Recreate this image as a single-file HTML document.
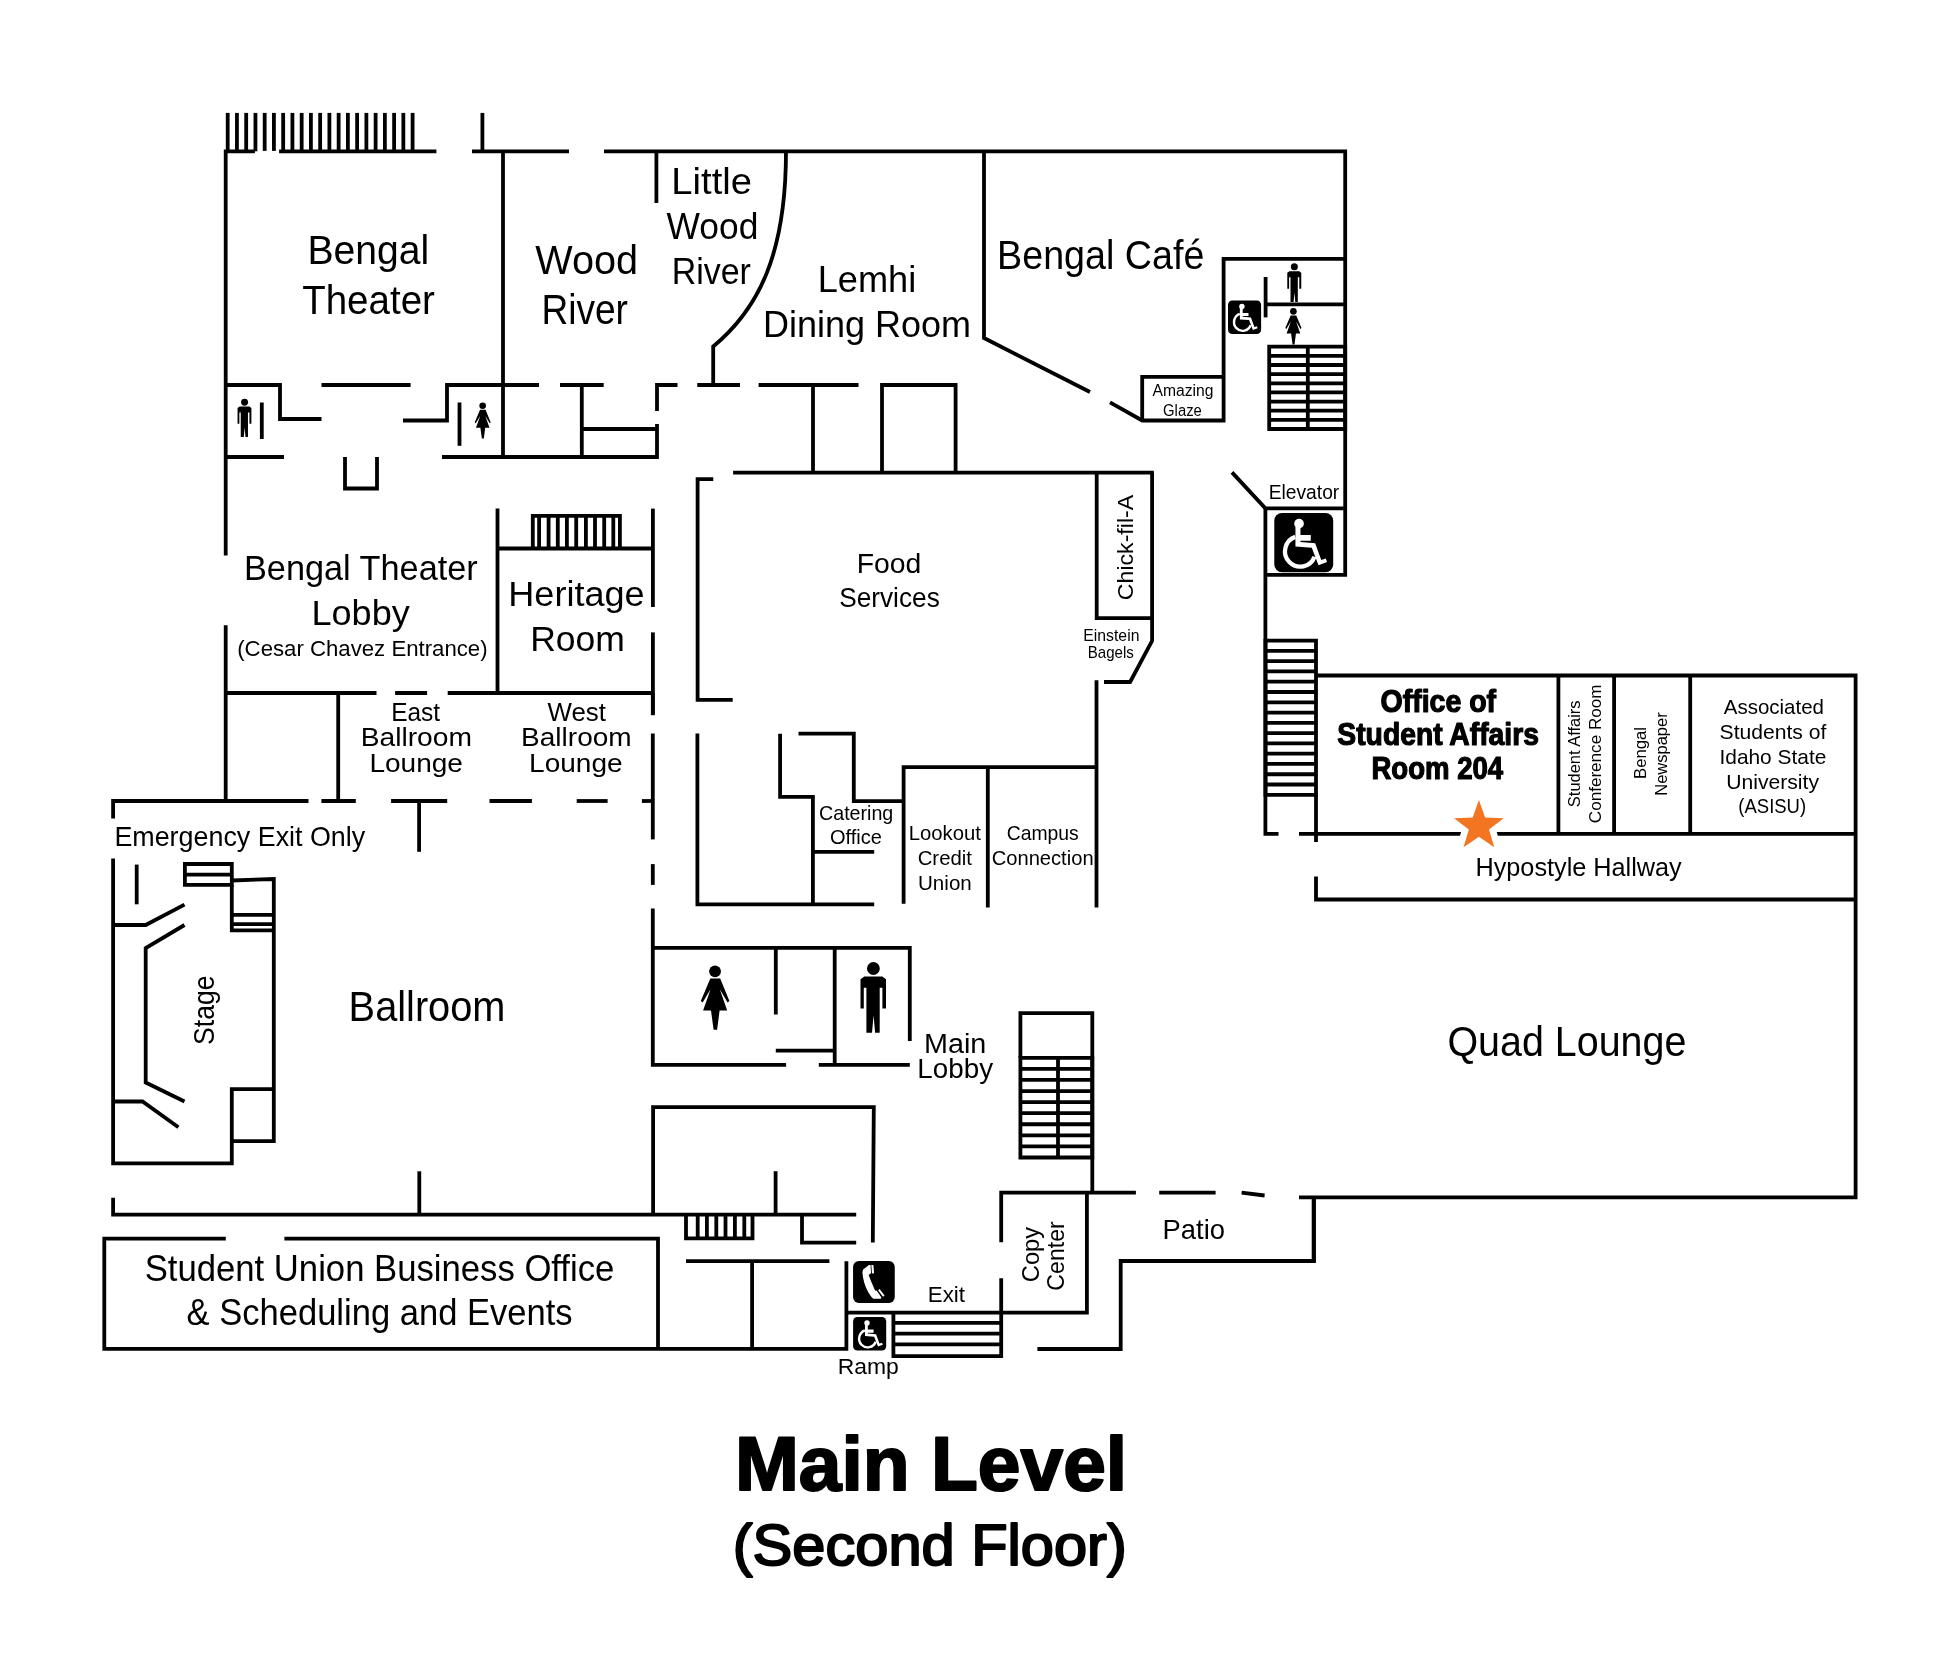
<!DOCTYPE html><html><head><meta charset="utf-8"><title>Main Level (Second Floor)</title>
<style>html,body{margin:0;padding:0;background:#fff;}svg{display:block;will-change:transform;}text{font-family:"Liberation Sans",sans-serif;fill:#000;}</style></head><body>
<svg width="1942" height="1662" viewBox="0 0 1942 1662">
<rect width="1942" height="1662" fill="#fff"/>
<g fill="none" stroke="#000" stroke-width="3.8" stroke-linejoin="miter" stroke-miterlimit="10">
<path d="M227.7 112.9 L227.7 151.3"/>
<path d="M236.94 112.9 L236.94 151.3"/>
<path d="M246.19 112.9 L246.19 151.3"/>
<path d="M255.44 112.9 L255.44 151.3"/>
<path d="M264.68 112.9 L264.68 150.9"/>
<path d="M273.92 112.9 L273.92 150.9"/>
<path d="M283.17 112.9 L283.17 151.3"/>
<path d="M292.41 112.9 L292.41 151.3"/>
<path d="M301.66 112.9 L301.66 151.3"/>
<path d="M310.9 112.9 L310.9 151.3"/>
<path d="M320.15 112.9 L320.15 151.3"/>
<path d="M329.39 112.9 L329.39 151.3"/>
<path d="M338.64 112.9 L338.64 151.3"/>
<path d="M347.88 112.9 L347.88 151.3"/>
<path d="M357.13 112.9 L357.13 151.3"/>
<path d="M366.38 112.9 L366.38 151.3"/>
<path d="M375.62 112.9 L375.62 151.3"/>
<path d="M384.87 112.9 L384.87 151.3"/>
<path d="M394.11 112.9 L394.11 151.3"/>
<path d="M403.35 112.9 L403.35 151.3"/>
<path d="M412.6 112.9 L412.6 151.3"/>
<path d="M225.7 555.5 L225.7 151.3 L254.9 151.3"/>
<path d="M279.1 151.3 L436.4 151.3"/>
<path d="M472 151.3 L569 151.3"/>
<path d="M482.4 112.9 L482.4 151.3"/>
<path d="M604 151.3 L1345.2 151.3 L1345.2 574.9 L1265.4 574.9"/>
<path d="M225.7 625.2 L225.7 801"/>
<path d="M225.7 385 L280 385 L280 419 L321.5 419"/>
<path d="M321.5 385 L410.6 385"/>
<path d="M403 420.5 L447 420.5 L447 385 L539 385"/>
<path d="M261.8 402.5 L261.8 439"/>
<path d="M459.5 402.5 L459.5 445.8"/>
<path d="M225.7 457 L284 457"/>
<path d="M345 457 L345 488.5 L377 488.5 L377 457"/>
<path d="M503 151.3 L503 457"/>
<path d="M560 385 L603.7 385"/>
<path d="M581.8 385 L581.8 457"/>
<path d="M581.8 429 L657 429"/>
<path d="M442 457 L657 457 L657 423.9"/>
<path d="M657 410.9 L657 385 L677.5 385"/>
<path d="M656.4 151.3 L656.4 203"/>
<path d="M786 151.3 C786 253 759.4 308.1 713.2 346.5 L713.2 385"/>
<path d="M697.3 385 L740 385"/>
<path d="M758.6 385 L858.5 385"/>
<path d="M813 385 L813 472.6"/>
<path d="M882 472.6 L882 385 L955.6 385 L955.6 472.6"/>
<path d="M733.1 472.6 L1153.8 472.6"/>
<path d="M984 151.3 L984 338 L1090 392"/>
<path d="M1110 402.4 L1142.2 420.5 L1223.6 420.5 L1223.6 258.9 L1345.2 258.9"/>
<path d="M1142.2 420.5 L1142.2 376.9 L1223.6 376.9"/>
<path d="M1265.6 304.3 L1345.2 304.3"/>
<path d="M1265.6 277 L1265.6 317.4"/>
<path d="M1269.2 355.84 L1345.2 355.84"/>
<path d="M1269.2 364.99 L1345.2 364.99"/>
<path d="M1269.2 374.13 L1345.2 374.13"/>
<path d="M1269.2 383.28 L1345.2 383.28"/>
<path d="M1269.2 392.42 L1345.2 392.42"/>
<path d="M1269.2 401.57 L1345.2 401.57"/>
<path d="M1269.2 410.71 L1345.2 410.71"/>
<path d="M1269.2 419.86 L1345.2 419.86"/>
<path d="M1269.2 346.7 H1345.2 V429 H1269.2 Z"/>
<path d="M1307.8 346.7 L1307.8 429"/>
<path d="M1232 472.4 L1265.4 508.4 L1345.2 508.4"/>
<path d="M1265.4 508.4 L1265.4 833.9 L1278.5 833.9"/>
<path d="M1152.1 472.6 L1152.1 640.8 L1130.1 682 L1104 682"/>
<path d="M1096.7 472.6 L1096.7 618.2 L1152.1 618.2"/>
<path d="M713.3 479.1 L697.6 479.1 L697.6 699.8 L732.7 699.8"/>
<path d="M697.4 733.6 L697.4 904.3 L874.2 904.3"/>
<path d="M780.1 733.7 L780.1 796.8 L812.9 796.8 L812.9 904.3"/>
<path d="M812.9 851.9 L874.2 851.9"/>
<path d="M798.5 733.7 L853.8 733.7 L853.8 801.2 L903.6 801.2"/>
<path d="M1096.5 767.1 L903.6 767.1 L903.6 903.7"/>
<path d="M987.8 767.1 L987.8 907.5"/>
<path d="M1096.5 680.3 L1096.5 907.5"/>
<path d="M1265.5 650.88 L1316 650.88"/>
<path d="M1265.5 661.16 L1316 661.16"/>
<path d="M1265.5 671.44 L1316 671.44"/>
<path d="M1265.5 681.72 L1316 681.72"/>
<path d="M1265.5 692 L1316 692"/>
<path d="M1265.5 702.28 L1316 702.28"/>
<path d="M1265.5 712.56 L1316 712.56"/>
<path d="M1265.5 722.84 L1316 722.84"/>
<path d="M1265.5 733.12 L1316 733.12"/>
<path d="M1265.5 743.4 L1316 743.4"/>
<path d="M1265.5 753.68 L1316 753.68"/>
<path d="M1265.5 763.96 L1316 763.96"/>
<path d="M1265.5 774.24 L1316 774.24"/>
<path d="M1265.5 784.52 L1316 784.52"/>
<path d="M1265.5 640.6 H1316 V794.8 H1265.5 Z"/>
<path d="M1316 794.8 L1316 842"/>
<path d="M1299 833.9 L1855.6 833.9"/>
<path d="M1316 675.5 L1855.6 675.5 L1855.6 1197.3 L1299 1197.3"/>
<path d="M1558.4 675.5 L1558.4 833.9"/>
<path d="M1614.1 675.5 L1614.1 833.9"/>
<path d="M1690.2 675.5 L1690.2 833.9"/>
<path d="M1316 876.6 L1316 899.5 L1855.6 899.5"/>
<path d="M1313.6 1197.3 L1313.6 1261"/>
<path d="M1001.2 1242.3 L1001.2 1192.6 L1135.9 1192.6"/>
<path d="M1159.2 1192.6 L1215.6 1192.6"/>
<path d="M1241.6 1192.6 L1264.6 1195.5"/>
<path d="M1314 1197.3 L1314 1261 L1120.7 1261 L1120.7 1349 L1037.4 1349"/>
<path d="M1020.4 1068.88 L1092.3 1068.88"/>
<path d="M1020.4 1079.96 L1092.3 1079.96"/>
<path d="M1020.4 1091.03 L1092.3 1091.03"/>
<path d="M1020.4 1102.11 L1092.3 1102.11"/>
<path d="M1020.4 1113.19 L1092.3 1113.19"/>
<path d="M1020.4 1124.27 L1092.3 1124.27"/>
<path d="M1020.4 1135.34 L1092.3 1135.34"/>
<path d="M1020.4 1146.42 L1092.3 1146.42"/>
<path d="M1020.4 1057.8 H1092.3 V1157.5 H1020.4 Z"/>
<path d="M1058 1057.8 L1058 1157.5"/>
<path d="M1020.4 1057.8 L1020.4 1013.2 L1092.3 1013.2 L1092.3 1192.6"/>
<path d="M652.8 908.4 L652.8 1064.9 L786.1 1064.9"/>
<path d="M652.8 947.9 L909.8 947.9 L909.8 1040.9"/>
<path d="M775.8 947.9 L775.8 1014.5"/>
<path d="M834.7 947.9 L834.7 1064.9"/>
<path d="M775.8 1050.7 L834.7 1050.7"/>
<path d="M818.8 1064.9 L909.8 1064.9"/>
<path d="M653.1 1214.7 L653.1 1107.2 L873.8 1107.2 L872.8 1242.6"/>
<path d="M775.6 1171.2 L775.6 1214.7"/>
<path d="M113.1 1197.7 L113.1 1214.7 L856.2 1214.7"/>
<path d="M697.7 1214.7 L697.7 1238.4"/>
<path d="M706.9 1214.7 L706.9 1238.4"/>
<path d="M716.3 1214.7 L716.3 1238.4"/>
<path d="M725.5 1214.7 L725.5 1238.4"/>
<path d="M734.9 1214.7 L734.9 1238.4"/>
<path d="M744.3 1214.7 L744.3 1238.4"/>
<path d="M686 1214.7 L686 1238.4 L752.5 1238.4 L752.5 1214.7"/>
<path d="M856.2 1242.6 L802 1242.6 L802 1214.7"/>
<path d="M284.4 1238.6 L658 1238.6 L658 1348.8"/>
<path d="M686 1261.2 L829.4 1261.2"/>
<path d="M752.1 1261.2 L752.1 1348.8"/>
<path d="M846.4 1312.7 L1086.9 1312.7 L1086.9 1192.6"/>
<path d="M893.4 1322.8 L1001.2 1322.8"/>
<path d="M893.4 1333.6 L1001.2 1333.6"/>
<path d="M893.4 1344.4 L1001.2 1344.4"/>
<path d="M893.4 1312.7 L893.4 1356.1 L1001.2 1356.1 L1001.2 1278.3"/>
<path d="M225.8 1238.6 L104.3 1238.6 L104.3 1348.8 L846.4 1348.8 L846.4 1261.2"/>
<path d="M113.1 818.5 L113.1 801 L308.5 801"/>
<path d="M321.4 801 L355.8 801"/>
<path d="M391.1 801 L447.2 801"/>
<path d="M489.5 801 L531.9 801"/>
<path d="M576.7 801 L607.6 801"/>
<path d="M641.9 801 L652.8 801"/>
<path d="M338.2 693 L338.2 801"/>
<path d="M419.1 801 L419.1 851.8"/>
<path d="M419.3 1171.3 L419.3 1214.7"/>
<path d="M113.1 858.4 L113.1 1163.4 L231.8 1163.4 L231.8 1089.2 L273.8 1089.2"/>
<path d="M652.8 693 L652.8 715.2"/>
<path d="M652.8 733.5 L652.8 839.4"/>
<path d="M652.8 864.1 L652.8 884.9"/>
<path d="M136.7 864.6 L136.7 904.3"/>
<path d="M113.1 925 L145.7 925 L184.5 904.6"/>
<path d="M184.5 925 L145.7 948 L145.7 1082.5 L184.5 1101.5"/>
<path d="M113.1 1101.5 L142.5 1101.5 L178.4 1127.2"/>
<path d="M184.9 864 H231.8 V884.9 H184.9 Z"/>
<path d="M184.9 874.7 L231.8 874.7"/>
<path d="M231.8 884.9 L231.8 930.4 L273.8 930.4"/>
<path d="M231.8 880.5 L273.8 879 L273.8 1141.2 L231.8 1141.2"/>
<path d="M231.8 914.8 L273.8 914.8"/>
<path d="M231.8 924.1 L273.8 924.1"/>
<path d="M225.7 693 L376.5 693"/>
<path d="M395.1 693 L427.1 693"/>
<path d="M447.7 693 L652.9 693"/>
<path d="M497.5 508.6 L497.5 693"/>
<path d="M497.5 548.5 L652.9 548.5"/>
<path d="M652.9 508.6 L652.9 607"/>
<path d="M652.9 632.4 L652.9 714.8"/>
<path d="M532.8 548.5 L532.8 515.8 L619.9 515.8 L619.9 548.5"/>
<path d="M539.1 515.8 L539.1 548.5"/>
<path d="M548.6 515.8 L548.6 548.5"/>
<path d="M557.8 515.8 L557.8 548.5"/>
<path d="M566.9 515.8 L566.9 548.5"/>
<path d="M576.2 515.8 L576.2 548.5"/>
<path d="M585.9 515.8 L585.9 548.5"/>
<path d="M595 515.8 L595 548.5"/>
<path d="M604.2 515.8 L604.2 548.5"/>
<path d="M613.3 515.8 L613.3 548.5"/>
</g>
<g fill="#000">
<circle cx="873.4" cy="968.5" r="6.4"/><path d="M864.3 976.4 L882.3 976.4 L886 979.3 L886 1008.4 L882.4 1008.4 L882.4 987.7 L879.7 987.7 L879.7 1032.7 L875.1 1032.7 L873.6 1015.3 L872 1032.7 L866.4 1032.7 L866.4 987.7 L863.8 987.7 L863.8 1008.4 L860.5 1008.4 L860.5 979.3 Z"/>
<circle cx="715.05" cy="971.3" r="5.9"/><path d="M710.3 978.5 L720.2 978.5 L729.4 1000.9 L727.6 1002.5 L719.8 989.3 L727.2 1010.5 L719.6 1010.5 L717.1 1029.8 L713.6 1029.8 L711 1010.5 L703.1 1010.5 L710.6 989.3 L702.6 1002.5 L700.8 1000.9 Z"/>
<g transform="translate(244.5 398.7) scale(0.5425) translate(-873.3 -962.1)"><circle cx="873.4" cy="968.5" r="6.4"/><path d="M864.3 976.4 L882.3 976.4 L886 979.3 L886 1008.4 L882.4 1008.4 L882.4 987.7 L879.7 987.7 L879.7 1032.7 L875.1 1032.7 L873.6 1015.3 L872 1032.7 L866.4 1032.7 L866.4 987.7 L863.8 987.7 L863.8 1008.4 L860.5 1008.4 L860.5 979.3 Z"/></g>
<g transform="translate(482.7 402.5) scale(0.5606) translate(-715.1 -965.4)"><circle cx="715.05" cy="971.3" r="5.9"/><path d="M710.3 978.5 L720.2 978.5 L729.4 1000.9 L727.6 1002.5 L719.8 989.3 L727.2 1010.5 L719.6 1010.5 L717.1 1029.8 L713.6 1029.8 L711 1010.5 L703.1 1010.5 L710.6 989.3 L702.6 1002.5 L700.8 1000.9 Z"/></g>
<g transform="translate(1294.3 263.3) scale(0.5482) translate(-873.3 -962.1)"><circle cx="873.4" cy="968.5" r="6.4"/><path d="M864.3 976.4 L882.3 976.4 L886 979.3 L886 1008.4 L882.4 1008.4 L882.4 987.7 L879.7 987.7 L879.7 1032.7 L875.1 1032.7 L873.6 1015.3 L872 1032.7 L866.4 1032.7 L866.4 987.7 L863.8 987.7 L863.8 1008.4 L860.5 1008.4 L860.5 979.3 Z"/></g>
<g transform="translate(1293.4 308) scale(0.5668) translate(-715.1 -965.4)"><circle cx="715.05" cy="971.3" r="5.9"/><path d="M710.3 978.5 L720.2 978.5 L729.4 1000.9 L727.6 1002.5 L719.8 989.3 L727.2 1010.5 L719.6 1010.5 L717.1 1029.8 L713.6 1029.8 L711 1010.5 L703.1 1010.5 L710.6 989.3 L702.6 1002.5 L700.8 1000.9 Z"/></g>
</g>
<g transform="translate(1228 300.4) scale(0.3310 0.3360)"><rect x="0" y="0" width="100" height="100" rx="13" ry="13" fill="#000"/><g fill="#fff"><circle cx="42" cy="17.9" r="8.2"/><path d="M35.9 22.5 L44.4 22.5 L44.4 37.2 L61.9 37.2 L61.9 46.6 L44.4 46.6 L44.4 48.9 L69.4 51.1 L79.7 79.4 L87.4 76.7 L89.6 82.7 L75.1 88.2 L63.6 58.6 L35.9 56.5 Z"/></g><path d="M35.6 40.2 A25.9 25.9 0 1 0 68.3 73.8" fill="none" stroke="#fff" stroke-width="7.3"/></g>
<g transform="translate(1274.3 513.1) scale(0.5890 0.5910)"><rect x="0" y="0" width="100" height="100" rx="13" ry="13" fill="#000"/><g fill="#fff"><circle cx="42" cy="17.9" r="8.2"/><path d="M35.9 22.5 L44.4 22.5 L44.4 37.2 L61.9 37.2 L61.9 46.6 L44.4 46.6 L44.4 48.9 L69.4 51.1 L79.7 79.4 L87.4 76.7 L89.6 82.7 L75.1 88.2 L63.6 58.6 L35.9 56.5 Z"/></g><path d="M35.6 40.2 A25.9 25.9 0 1 0 68.3 73.8" fill="none" stroke="#fff" stroke-width="7.3"/></g>
<g transform="translate(853.1 1317.1) scale(0.3310 0.3340)"><rect x="0" y="0" width="100" height="100" rx="13" ry="13" fill="#000"/><g fill="#fff"><circle cx="42" cy="17.9" r="8.2"/><path d="M35.9 22.5 L44.4 22.5 L44.4 37.2 L61.9 37.2 L61.9 46.6 L44.4 46.6 L44.4 48.9 L69.4 51.1 L79.7 79.4 L87.4 76.7 L89.6 82.7 L75.1 88.2 L63.6 58.6 L35.9 56.5 Z"/></g><path d="M35.6 40.2 A25.9 25.9 0 1 0 68.3 73.8" fill="none" stroke="#fff" stroke-width="7.3"/></g>
<g transform="translate(853.06 1261.06) scale(0.4170 0.4184)"><rect x="0" y="0" width="100" height="100" rx="14" ry="14" fill="#000"/><path fill="#fff" d="M24.1 20.3 L38.1 9.5 L41.3 9.5 L41.9 10.1 L43.2 29.1 L38.1 32.9 L37.5 34.8 L38.7 36.7 L43.2 48.1 L47.6 58.2 L51.4 67.1 L53.3 70.9 L56.5 70.3 L61 77.2 L67.9 87.3 L66.7 89.9 L48.3 90.2 L43.2 84.8 L36.8 75.3 L31.1 63.9 L26.7 51.3 L23.8 38.6 L22.5 27.8 L22.9 24.1 Z"/><path d="M46.2 9.5 L47.9 29.4" stroke="#fff" stroke-width="5" fill="none"/><path d="M61.9 68.4 L73.7 83.9" stroke="#fff" stroke-width="4.5" fill="none"/></g>
<path d="M1478.9 800.1 L1485.13 817.62 L1503.72 818.13 L1488.98 829.48 L1494.24 847.32 L1478.9 836.8 L1463.56 847.32 L1468.82 829.48 L1454.08 818.13 L1472.67 817.62Z" fill="#F37521" stroke="#fff" stroke-width="13.4" stroke-linejoin="round" paint-order="stroke"/>
<g>
<text transform="translate(307.48 264) scale(0.9470 1)" font-size="41.28">Bengal</text>
<text transform="translate(302.13 314.2) scale(0.9335 1)" font-size="41.28">Theater</text>
<text transform="translate(535.3 274.3) scale(0.9537 1)" font-size="41.57">Wood</text>
<text transform="translate(541.44 324) scale(0.8923 1)" font-size="41.57">River</text>
<text transform="translate(671.35 194) scale(1.0105 1)" font-size="37.79">Little</text>
<text transform="translate(666.52 239) scale(0.9369 1)" font-size="37.79">Wood</text>
<text transform="translate(671.7 284.1) scale(0.8986 1)" font-size="37.79">River</text>
<text transform="translate(817.71 291.8) scale(0.9727 1)" font-size="37.21">Lemhi</text>
<text transform="translate(762.93 336.9) scale(0.9676 1)" font-size="37.21">Dining Room</text>
<text transform="translate(997.09 268.6) scale(0.9059 1)" font-size="41.57">Bengal Café</text>
<text transform="translate(348.62 1020.7) scale(0.9565 1)" font-size="41.57">Ballroom</text>
<text transform="translate(1447.43 1056.4) scale(0.9227 1)" font-size="42.73">Quad Lounge</text>
<text transform="translate(243.97 580.4) scale(0.9752 1)" font-size="35.17">Bengal Theater</text>
<text transform="translate(311.52 625.2) scale(1.0252 1)" font-size="35.17">Lobby</text>
<text transform="translate(237.21 655.5) scale(0.9732 1)" font-size="22.82">(Cesar Chavez Entrance)</text>
<text transform="translate(508.32 605.8) scale(1.0093 1)" font-size="35.76">Heritage</text>
<text transform="translate(530.17 650.6) scale(0.9933 1)" font-size="35.76">Room</text>
<text transform="translate(144.64 1280.6) scale(0.9472 1)" font-size="36.63">Student Union Business Office</text>
<text transform="translate(186.59 1325.3) scale(0.9433 1)" font-size="36.63">&amp; Scheduling and Events</text>
<text transform="translate(114.38 845.7) scale(0.9431 1)" font-size="28.49">Emergency Exit Only</text>
<text transform="translate(856.66 572.5) scale(1.0113 1)" font-size="28.05">Food</text>
<text transform="translate(839.22 607.1) scale(0.9351 1)" font-size="28.05">Services</text>
<text transform="translate(924.03 1052.6) scale(1.0415 1)" font-size="27.62">Main</text>
<text transform="translate(917.31 1077.5) scale(1.0068 1)" font-size="27.62">Lobby</text>
<text transform="translate(1162.54 1239.4) scale(0.9914 1)" font-size="27.62">Patio</text>
<text transform="translate(1475.42 876) scale(0.9991 1)" font-size="25.29">Hypostyle Hallway</text>
<text transform="translate(391.18 721.3) scale(0.9668 1)" font-size="25.29">East</text>
<text transform="translate(360.67 746.2) scale(1.1162 1)" font-size="25.29">Ballroom</text>
<text transform="translate(369.39 771.6) scale(1.1086 1)" font-size="25.29">Lounge</text>
<text transform="translate(547.47 721.3) scale(1.0222 1)" font-size="25.29">West</text>
<text transform="translate(521.09 746.2) scale(1.1089 1)" font-size="25.29">Ballroom</text>
<text transform="translate(529.09 771.6) scale(1.1086 1)" font-size="25.29">Lounge</text>
<text transform="translate(927.76 1302.3) scale(0.9778 1)" font-size="22.82">Exit</text>
<text transform="translate(837.71 1373.7) scale(1.0721 1)" font-size="21.37">Ramp</text>
<text transform="translate(1268.71 498.7) scale(0.9664 1)" font-size="19.91">Elevator</text>
<text transform="translate(1723.75 713.5) scale(1.0073 1)" font-size="20.35">Associated</text>
<text transform="translate(1719.55 738.8) scale(1.0382 1)" font-size="20.35">Students of</text>
<text transform="translate(1719.47 763.8) scale(1.0273 1)" font-size="20.35">Idaho State</text>
<text transform="translate(1726.36 788.9) scale(1.0376 1)" font-size="20.35">University</text>
<text transform="translate(1738.34 813.2) scale(0.9086 1)" font-size="20.35">(ASISU)</text>
<text transform="translate(819.02 820) scale(1.0170 1)" font-size="19.33">Catering</text>
<text transform="translate(830.05 844.4) scale(1.0356 1)" font-size="19.33">Office</text>
<text transform="translate(908.63 840) scale(1.0503 1)" font-size="19.33">Lookout</text>
<text transform="translate(917.68 865) scale(1.0524 1)" font-size="19.33">Credit</text>
<text transform="translate(918 889.8) scale(1.0660 1)" font-size="19.33">Union</text>
<text transform="translate(1006.73 840) scale(1.0012 1)" font-size="19.33">Campus</text>
<text transform="translate(991.69 865) scale(1.0424 1)" font-size="19.33">Connection</text>
<text transform="translate(1152.46 395.9) scale(0.9551 1)" font-size="16.42">Amazing</text>
<text transform="translate(1163.06 415.5) scale(0.9045 1)" font-size="16.42">Glaze</text>
<text transform="translate(1083.3 640.8) scale(1.0051 1)" font-size="15.7">Einstein</text>
<text transform="translate(1087.76 657.8) scale(0.9599 1)" font-size="15.7">Bagels</text>
<text transform="translate(1133.3 600.16) rotate(-90) scale(1.0333 1)" font-size="22.38">Chick-fil-A</text>
<text transform="translate(214 1044.9) rotate(-90) scale(0.9234 1)" font-size="28.78">Stage</text>
<text transform="translate(1039.3 1282.18) rotate(-90) scale(0.9865 1)" font-size="23.98">Copy</text>
<text transform="translate(1064.2 1290.66) rotate(-90) scale(0.9765 1)" font-size="23.69">Center</text>
<text transform="translate(1580.2 807.14) rotate(-90) scale(0.9595 1)" font-size="17.15">Student Affairs</text>
<text transform="translate(1601.2 823.15) rotate(-90) scale(0.9963 1)" font-size="17.15">Conference Room</text>
<text transform="translate(1646 778.88) rotate(-90) scale(0.9734 1)" font-size="17.15">Bengal</text>
<text transform="translate(1667.2 795.76) rotate(-90) scale(0.9627 1)" font-size="17.15">Newspaper</text>
<text transform="translate(1380.46 712.4) scale(0.9002 1)" font-size="31.69" font-weight="bold" stroke="#000" stroke-width="1.2" stroke-linejoin="round">Office of</text>
<text transform="translate(1337.35 745.3) scale(0.8927 1)" font-size="31.69" font-weight="bold" stroke="#000" stroke-width="1.2" stroke-linejoin="round">Student Affairs</text>
<text transform="translate(1371.44 779.1) scale(0.8700 1)" font-size="31.69" font-weight="bold" stroke="#000" stroke-width="1.2" stroke-linejoin="round">Room 204</text>
<text transform="translate(734.92 1490) scale(1.0190 1)" font-size="75.29" font-weight="bold" stroke="#000" stroke-width="2" stroke-linejoin="round">Main Level</text>
<text transform="translate(732.78 1564.8) scale(1.0510 1)" font-size="56.69" stroke="#000" stroke-width="2" stroke-linejoin="round">(Second Floor)</text>
</g>
</svg></body></html>
